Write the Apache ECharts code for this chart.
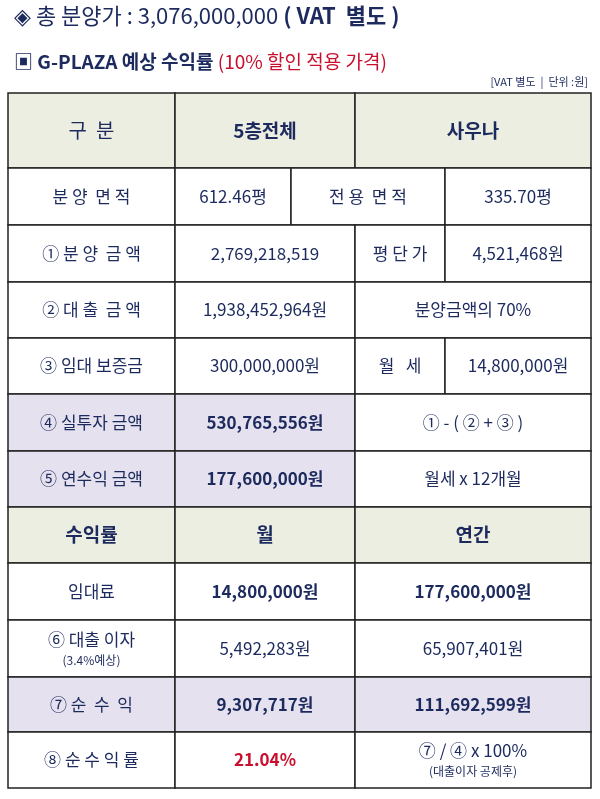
<!DOCTYPE html>
<html><head><meta charset="utf-8">
<script src="https://cdn.jsdelivr.net/npm/echarts@6/dist/echarts.min.js"></script>
<style>html,body{margin:0;padding:0;background:#fff}#c{width:600px;height:799px}</style>
</head><body><div id="c"></div>
<script>
// ---- content data ----
const rowLabels = ['구  분','분 양  면 적','① 분 양  금 액','② 대 출  금 액','③ 임대 보증금','④ 실투자 금액','⑤ 연수익 금액','수익률','임대료','⑥ 대출 이자\n{s|(3.4%예상)}','⑦ 순  수  익','⑧ 순 수 익 률'];
const rowValues = [
  ['5층전체','사우나'],
  ['612.46평','전 용  면 적','335.70평'],
  ['2,769,218,519','평 단 가','4,521,468원'],
  ['1,938,452,964원','분양금액의 70%'],
  ['300,000,000원','월   세','14,800,000원'],
  ['530,765,556원','① - ( ② + ③ )'],
  ['177,600,000원','월세 x 12개월'],
  ['월','연간'],
  ['14,800,000원','177,600,000원'],
  ['5,492,283원','65,907,401원'],
  ['9,307,717원','111,692,599원'],
  ['21.04%','⑦ / ④ x 100%\n{s|(대출이자 공제후)}']
];
// ---- layout ----
const rowEdges = [93,168,225,282,338,394,451,507,563,620,677,732,788];
const colEdges = [8,175,291,355,445,591];
const spans = [
  [[0,1],[1,3],[3,5]],
  [[0,1],[1,2],[2,4],[4,5]],
  [[0,1],[1,3],[3,4],[4,5]],
  [[0,1],[1,3],[3,5]],
  [[0,1],[1,3],[3,4],[4,5]],
  [[0,1],[1,3],[3,5]],
  [[0,1],[1,3],[3,5]],
  [[0,1],[1,3],[3,5]],
  [[0,1],[1,3],[3,5]],
  [[0,1],[1,3],[3,5]],
  [[0,1],[1,3],[3,5]],
  [[0,1],[1,3],[3,5]]
];
const GREEN='#ebeee0', PURPLE='#e5e1ee', NAVY='#1c2a5e', RED='#c8102e';
const cells=[];
rowLabels.forEach((lab,r)=>{
  const texts=[lab].concat(rowValues[r]);
  spans[r].forEach((sp,i)=>{
    let fill='#fff', bold=false, color=NAVY, size=17;
    if(r===0||r===7){fill=GREEN;bold=true;size=19;if(i===0)bold=(r===7);}
    if(r===5||r===6){ if(i<2)fill=PURPLE; bold=i===1; }
    if(r===10){fill=PURPLE;bold=i>0;}
    if(r===8&&i>0)bold=true;
    if(r===11&&i===1){color=RED;bold=true;}
    if(r===0&&i===0){bold=false;size=20;}
    cells.push([colEdges[sp[0]],colEdges[sp[1]],rowEdges[r],rowEdges[r+1],texts[i],fill,bold?1:0,color,size]);
  });
});
const chart=echarts.init(document.getElementById('c'));
const ff='"Noto Sans CJK KR","Noto Sans",sans-serif';
chart.setOption({
  animation:false,
  grid:{left:0,right:0,top:0,bottom:0},
  xAxis:{type:'value',min:0,max:600,show:false},
  yAxis:{type:'value',min:0,max:799,inverse:true,show:false},
  graphic:[
    {type:'text',left:14,top:5,style:{text:'{n|◈ 총 분양가 : 3,076,000,000 }{b|( VAT  별도 )}',rich:{n:{fontSize:22,fill:NAVY,fontFamily:ff},b:{fontSize:22,fontWeight:'bold',fill:NAVY,fontFamily:ff}}}},
    {type:'text',left:14,top:52,style:{text:'{b|▣ G-PLAZA 예상 수익률 }{r|(10% 할인 적용 가격)}',rich:{b:{fontSize:19,fontWeight:'bold',fill:NAVY,fontFamily:ff},r:{fontSize:19,fill:RED,fontFamily:ff}}}},
    {type:'text',right:12,top:76,style:{text:'[VAT 별도  |  단위 :원]',fontSize:11,fill:NAVY,fontFamily:ff}}
  ],
  series:[{
    type:'custom',
    data:cells,
    renderItem:(p,api)=>{
      const d=cells[p.dataIndex];
      const a=api.coord([d[0],d[2]]), b=api.coord([d[1],d[3]]);
      return {type:'group',children:[
        {type:'rect',shape:{x:a[0],y:a[1],width:b[0]-a[0],height:b[1]-a[1]},style:{fill:d[5],stroke:'#222',lineWidth:1.5}},
        {type:'text',x:(a[0]+b[0])/2,y:(a[1]+b[1])/2,style:{text:d[4],align:'center',verticalAlign:'middle',fontSize:d[8],fontWeight:d[6]?'bold':'normal',fill:d[7],fontFamily:ff,lineHeight:23,rich:{s:{fontSize:12,fill:d[7],fontFamily:ff,lineHeight:18}}}}
      ]};
    }
  }]
});
</script></body></html>
